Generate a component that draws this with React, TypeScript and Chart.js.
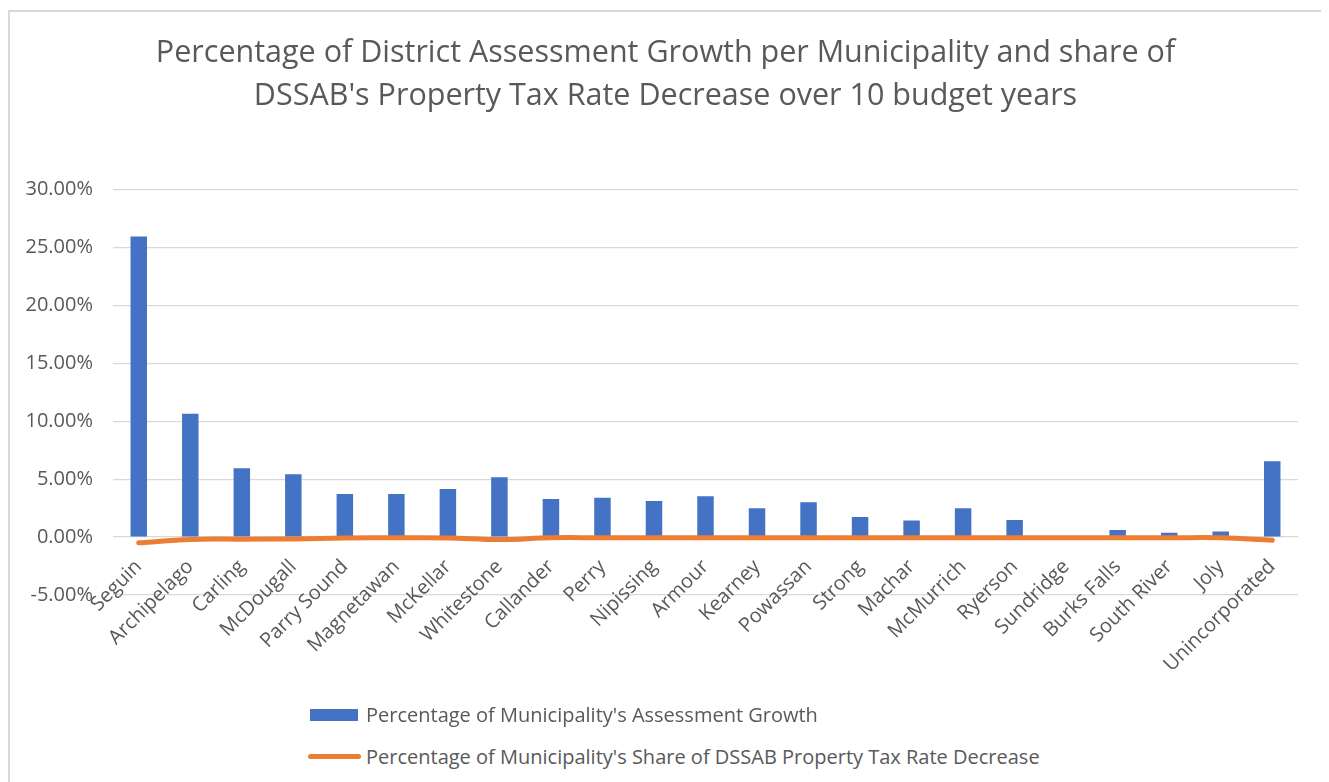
import React, { useEffect, useRef } from "react";
import { Chart, registerables } from "chart.js";

Chart.register(...registerables);

const categories = [
  "Seguin", "Archipelago", "Carling", "McDougall", "Parry Sound", "Magnetawan",
  "McKellar", "Whitestone", "Callander", "Perry", "Nipissing", "Armour",
  "Kearney", "Powassan", "Strong", "Machar", "McMurrich", "Ryerson",
  "Sundridge", "Burks Falls", "South River", "Joly", "Unincorporated",
];

const assessmentGrowth = [
  25.95, 10.64, 5.94, 5.42, 3.72, 3.72, 4.15, 5.16, 3.29, 3.40, 3.11, 3.52,
  2.48, 3.00, 1.73, 1.44, 2.48, 1.47, 0.0, 0.60, 0.37, 0.49, 6.55,
];

const taxShare = [
  -0.5, -0.2, -0.18, -0.16, -0.08, -0.06, -0.07, -0.22, -0.06, -0.06, -0.06, -0.06,
  -0.06, -0.06, -0.06, -0.06, -0.06, -0.06, -0.06, -0.06, -0.06, -0.06, -0.28,
];

const yTicks = { min: -5, max: 30, step: 5 };

const titleLines = [
  "Percentage of District Assessment Growth per Municipality and share of",
  "DSSAB's Property Tax Rate Decrease over 10 budget years",
];

const seriesNames = [
  "Percentage of Municipality's Assessment Growth",
  "Percentage of Municipality's Share of DSSAB Property Tax Rate Decrease",
];

const BLUE = "#4472C4";
const ORANGE = "#ED7D31";
const TEXT = "#595959";
const FONT = "'Open Sans', 'Noto Sans', sans-serif";

export default function App() {
  const canvasRef = useRef<HTMLCanvasElement | null>(null);

  useEffect(() => {
    const canvas = canvasRef.current;
    if (!canvas) return;
    const chart = new Chart(canvas, {
      type: "bar",
      data: {
        labels: categories,
        datasets: [
          {
            type: "line",
            label: seriesNames[1],
            data: taxShare,
            borderColor: ORANGE,
            backgroundColor: ORANGE,
            borderWidth: 5,
            borderCapStyle: "round",
            borderJoinStyle: "round",
            pointRadius: 0,
            tension: 0.4,
            order: 0,
          } as any,
          {
            type: "bar",
            label: seriesNames[0],
            data: assessmentGrowth,
            backgroundColor: BLUE,
            borderWidth: 0,
            barPercentage: 0.32,
            categoryPercentage: 1,
            order: 1,
          } as any,
        ],
      },
      options: {
        responsive: false,
        animation: false,
        layout: { padding: { left: 0, right: 23, top: 177.5, bottom: 107 } },
        plugins: {
          legend: { display: false },
          tooltip: { enabled: false },
          title: { display: false },
        },
        scales: {
          x: {
            position: { y: 0 } as any,
            grid: { display: false, drawTicks: false },
            border: { display: false },
            ticks: {
              autoSkip: false,
              maxRotation: 45,
              minRotation: 45,
              padding: 18,
              color: TEXT,
              font: { family: FONT, size: 20 },
            },
          },
          y: {
            min: yTicks.min,
            max: yTicks.max,
            grid: { color: "#d9d9d9", lineWidth: 1.2, drawTicks: false },
            border: { display: false },
            ticks: {
              stepSize: yTicks.step,
              padding: 20,
              color: TEXT,
              font: { family: FONT, size: 20 },
              callback: (v: any) => Number(v).toFixed(2) + "%",
            },
            afterFit: (scale: any) => {
              scale.width = 103;
            },
          },
        },
      },
    });
    return () => chart.destroy();
  }, []);

  const titleLine: React.CSSProperties = {
    position: "absolute",
    left: 0,
    width: 1311,
    textAlign: "center",
    fontFamily: FONT,
    fontSize: 30.5,
    color: TEXT,
    lineHeight: "43px",
    whiteSpace: "nowrap",
  };

  const legendText: React.CSSProperties = {
    position: "absolute",
    left: 356,
    fontFamily: FONT,
    fontSize: 20,
    color: TEXT,
    lineHeight: "24px",
    whiteSpace: "nowrap",
  };

  return (
    <div
      style={{
        position: "relative",
        top: 2,
        width: 1311,
        height: 790,
        border: "2px solid #d9d9d9",
        background: "#fff",
      }}
    >
      <canvas ref={canvasRef} width={1311} height={690} style={{ display: "block" }} />
      <div style={{ ...titleLine, top: 16.5 }}>{titleLines[0]}</div>
      <div style={{ ...titleLine, top: 59.5 }}>{titleLines[1]}</div>
      <div
        style={{
          position: "absolute",
          left: 300,
          top: 696.5,
          width: 48,
          height: 12,
          background: BLUE,
        }}
      />
      <div style={{ ...legendText, top: 690.5 }}>{seriesNames[0]}</div>
      <div
        style={{
          position: "absolute",
          left: 298,
          top: 742,
          width: 53,
          height: 5,
          borderRadius: 3,
          background: ORANGE,
        }}
      />
      <div style={{ ...legendText, top: 732.5 }}>{seriesNames[1]}</div>
    </div>
  );
}
